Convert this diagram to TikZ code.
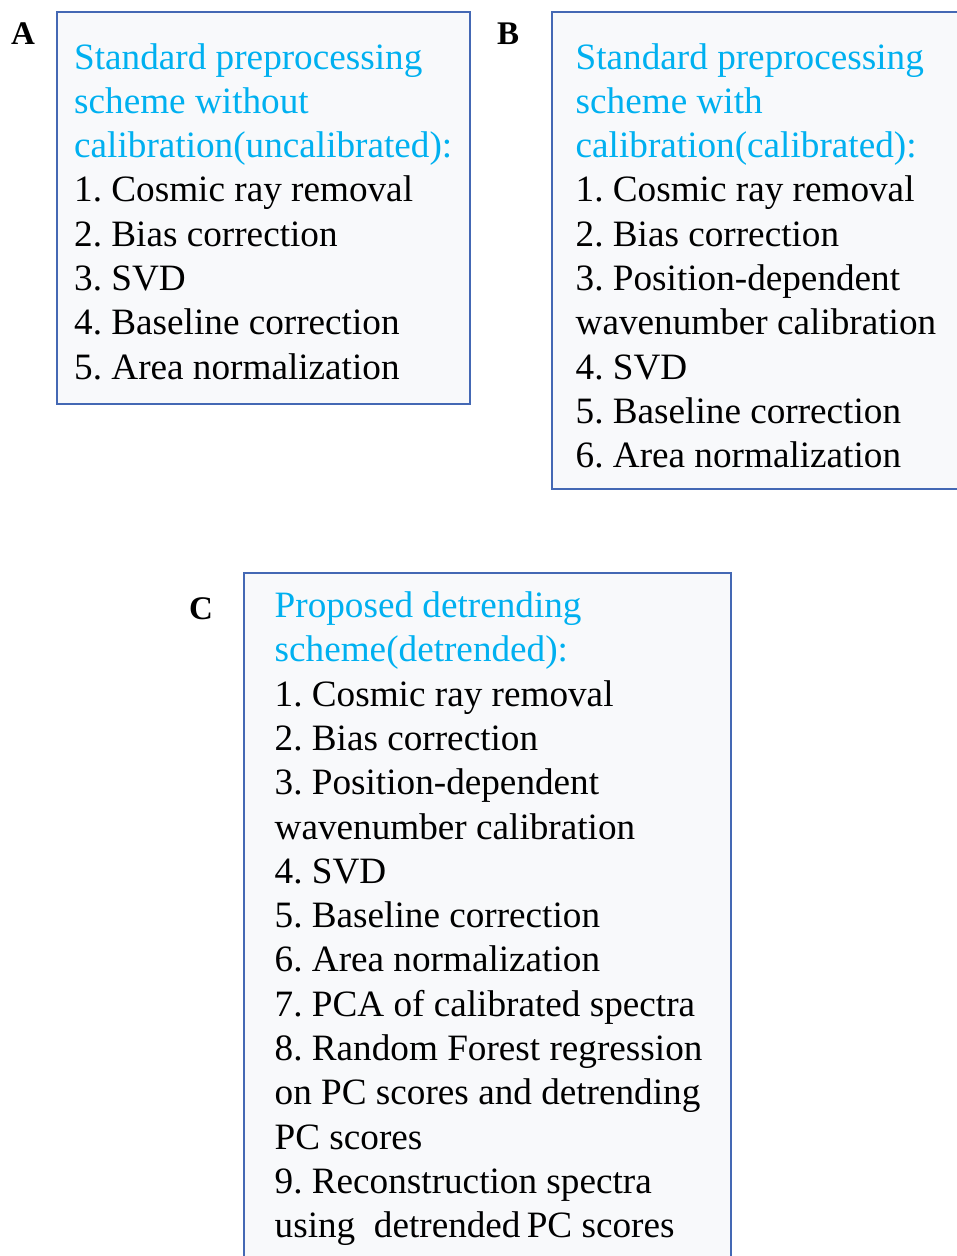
\documentclass[tikz,border=0pt]{standalone}
\usepackage{fontspec}
\setmainfont{Liberation Serif}
\frenchspacing
\definecolor{titleblue}{RGB}{0,176,240}
\definecolor{boxline}{RGB}{68,104,180}
\definecolor{boxfill}{RGB}{248,249,251}
\tikzset{
  panelbox/.style={draw=boxline, fill=boxfill, line width=1.8pt},
  panellabel/.style={anchor=base west, inner sep=0pt, font=\fontsize{33}{38}\selectfont\bfseries},
  paneltext/.style={anchor=base west, inner sep=0pt, font=\fontsize{37.2}{44.3}\selectfont}
}
\newcommand{\ttl}[1]{\textcolor{titleblue}{#1}}
\begin{document}
\begin{tikzpicture}[x=1pt,y=-1pt]
\useasboundingbox (0,0) rectangle (957,1256);
\clip (0,0) rectangle (957,1256);
% boxes
\draw[panelbox] (57,12) rectangle (470,404);
\draw[panelbox] (552,12) rectangle (962,489);
\draw[panelbox] (244,573) rectangle (731,1275);
% labels
\node[panellabel] (la) at (11,44.5) {A};
\node[panellabel] (lb) at (497,44.5) {B};
\node[panellabel] (lc) at (189,619.5) {C};
% texts
\node[paneltext] (ta) at (74,69) {\begin{tabular}[t]{@{}l@{}}
\ttl{Standard preprocessing}\\
\ttl{scheme without}\\
\ttl{calibration(uncalibrated):}\\
1. Cosmic ray removal\\
2. Bias correction\\
3. SVD\\
4. Baseline correction\\
5. Area normalization
\end{tabular}};
\node[paneltext] (tb) at (575.5,69) {\begin{tabular}[t]{@{}l@{}}
\ttl{Standard preprocessing}\\
\ttl{scheme with}\\
\ttl{calibration(calibrated):}\\
1. Cosmic ray removal\\
2. Bias correction\\
3. Position-dependent\\
wavenumber calibration\\
4. SVD\\
5. Baseline correction\\
6. Area normalization
\end{tabular}};
\node[paneltext] (tc) at (274.5,617.5) {\begin{tabular}[t]{@{}l@{}}
\ttl{Proposed detrending}\\
\ttl{scheme(detrended):}\\
1. Cosmic ray removal\\
2. Bias correction\\
3. Position-dependent\\
wavenumber calibration\\
4. SVD\\
5. Baseline correction\\
6. Area normalization\\
7. PCA of calibrated spectra\\
8. Random Forest regression\\
on PC scores and detrending\\
PC scores\\
9. Reconstruction spectra\\
using\ \ detrended\,PC scores
\end{tabular}};
\end{tikzpicture}
\end{document}
